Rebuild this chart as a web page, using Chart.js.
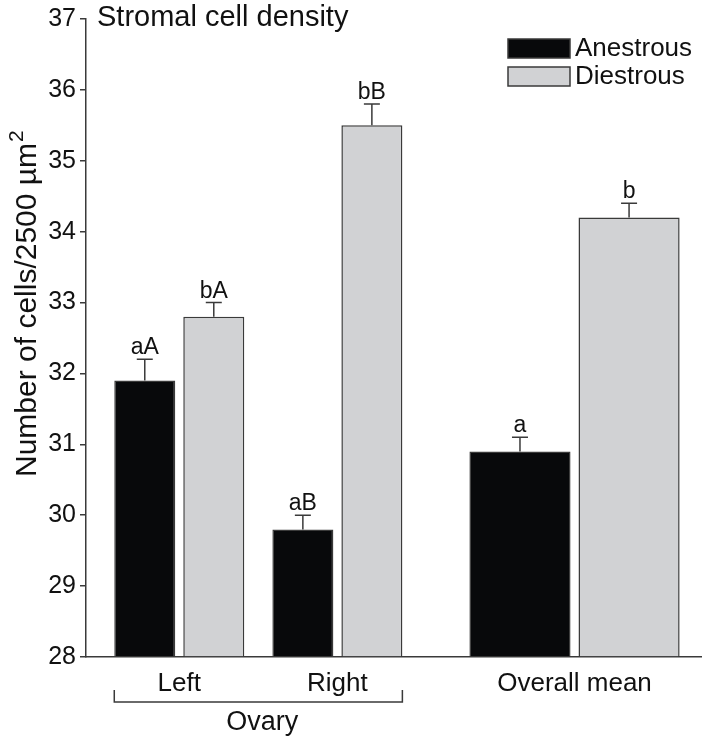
<!DOCTYPE html>
<html>
<head>
<meta charset="utf-8">
<script src="https://cdn.jsdelivr.net/npm/chart.js@4"></script>
<style>
  html, body { margin: 0; padding: 0; background: #fff; }
  #wrap { width: 706px; height: 741px; }
</style>
</head>
<body>
<div id="wrap"><canvas id="densityChart" width="706" height="741"></canvas></div>
<script>
const categories = ['Left', 'Right', 'Overall mean'];
const categoryPos = [1, 2, 3.5];
const anestrous = [31.9, 29.8, 30.9];
const diestrous = [32.8, 35.5, 34.2];
const anestrousSE = [0.3, 0.2, 0.2];
const diestrousSE = [0.2, 0.3, 0.2];
const anestrousLetters = ['aA', 'aB', 'a'];
const diestrousLetters = ['bA', 'bB', 'b'];
const seriesNames = ['Anestrous', 'Diestrous'];
const groupName = 'Ovary';
const ovaryIdx = [0, 1];
const overallIdx = [2];

const FONT = '"Liberation Sans", Arial, Helvetica, sans-serif';
const INK = '#111';
const EDGE = '#3a3a3a';
const BLACK = '#08090b';
const GREY = '#d1d2d4';

function makeSet(name, vals, se, letters, idx, color, stack, cp, bp) {
    return {
        label: name,
        data: idx.map(i => ({ x: categoryPos[i], y: vals[i] })),
        se: idx.map(i => se[i]),
        letters: idx.map(i => letters[i]),
        backgroundColor: color,
        borderColor: EDGE,
        borderWidth: 1.5,
        borderSkipped: 'start',
        stack: stack,
        base: 28,
        categoryPercentage: cp,
        barPercentage: bp
    };
}

const datasets = [
    makeSet(seriesNames[0], anestrous, anestrousSE, anestrousLetters, ovaryIdx, BLACK, 'A', 0.873, 0.884),
    makeSet(seriesNames[1], diestrous, diestrousSE, diestrousLetters, ovaryIdx, GREY, 'D', 0.873, 0.884),
    makeSet(seriesNames[0], anestrous, anestrousSE, anestrousLetters, overallIdx, BLACK, 'A', 1.38, 0.927),
    makeSet(seriesNames[1], diestrous, diestrousSE, diestrousLetters, overallIdx, GREY, 'D', 1.38, 0.927)
];

// error bars, letters, legend, titles and the ovary bracket
const extras = {
    id: 'extras',
    afterDatasetsDraw(chart) {
        const ctx = chart.ctx;
        const y = chart.scales.y;
        const area = chart.chartArea;
        ctx.save();

        chart.data.datasets.forEach((ds, di) => {
            chart.getDatasetMeta(di).data.forEach((bar, i) => {
                const top = y.getPixelForValue(ds.data[i].y + ds.se[i]);
                ctx.strokeStyle = EDGE;
                ctx.lineWidth = 1.5;
                ctx.beginPath();
                ctx.moveTo(bar.x, bar.y);
                ctx.lineTo(bar.x, top);
                ctx.moveTo(bar.x - 8, top);
                ctx.lineTo(bar.x + 8, top);
                ctx.stroke();
                ctx.fillStyle = INK;
                ctx.font = '23px ' + FONT;
                ctx.textAlign = 'center';
                ctx.textBaseline = 'alphabetic';
                ctx.fillText(ds.letters[i], bar.x, top - 5);
            });
        });

        // legend
        [0, 1].forEach((di, r) => {
            const ds = chart.data.datasets[di];
            const bx = 508, by = 39 + r * 28;
            ctx.fillStyle = ds.backgroundColor;
            ctx.fillRect(bx, by, 62, 19);
            ctx.strokeStyle = EDGE;
            ctx.lineWidth = 1.5;
            ctx.strokeRect(bx, by, 62, 19);
            ctx.fillStyle = INK;
            ctx.font = '26px ' + FONT;
            ctx.textAlign = 'left';
            ctx.textBaseline = 'middle';
            ctx.fillText(ds.label, bx + 67, by + 10);
        });

        // title
        ctx.fillStyle = INK;
        ctx.font = '29px ' + FONT;
        ctx.textAlign = 'left';
        ctx.textBaseline = 'alphabetic';
        ctx.fillText('Stromal cell density', area.left + 11, 26);

        // y axis title with superscript
        ctx.save();
        ctx.translate(36, 477);
        ctx.rotate(-Math.PI / 2);
        ctx.font = '30px ' + FONT;
        const main = 'Number of cells/2500 \u00b5m';
        ctx.fillText(main, 0, 0);
        const w = ctx.measureText(main).width;
        ctx.font = '21px ' + FONT;
        ctx.fillText('2', w + 1, -13);
        ctx.restore();

        // ovary bracket
        const b0 = chart.getDatasetMeta(0).data[0];
        const b1 = chart.getDatasetMeta(1).data[1];
        const x0 = b0.x - b0.width / 2;
        const x1 = b1.x + b1.width / 2;
        ctx.strokeStyle = EDGE;
        ctx.lineWidth = 1.5;
        ctx.beginPath();
        ctx.moveTo(x0, 690);
        ctx.lineTo(x0, 702);
        ctx.lineTo(x1, 702);
        ctx.lineTo(x1, 690);
        ctx.stroke();
        ctx.fillStyle = INK;
        ctx.font = '27px ' + FONT;
        ctx.textAlign = 'center';
        ctx.fillText(groupName, (x0 + x1) / 2 + 4, 730);

        ctx.restore();
    }
};

new Chart(document.getElementById('densityChart').getContext('2d'), {
    type: 'bar',
    data: { datasets: datasets },
    options: {
        responsive: false,
        animation: false,
        layout: { padding: { top: 15, right: 5, bottom: 0, left: 0 } },
        plugins: {
            legend: { display: false },
            tooltip: { enabled: false }
        },
        scales: {
            x: {
                type: 'linear',
                min: 0.41,
                max: 4.3,
                offset: false,
                afterBuildTicks: s => { s.ticks = categoryPos.map(v => ({ value: v })); },
                afterFit: s => { s.height = 84; },
                ticks: {
                    autoSkip: false,
                    maxRotation: 0,
                    padding: 3,
                    color: INK,
                    font: { family: FONT, size: 26 },
                    callback: (v, i) => categories[i]
                },
                grid: { display: false },
                border: { display: true, color: EDGE, width: 1.5 }
            },
            y: {
                min: 28,
                max: 37,
                afterFit: s => { s.width = 86; },
                ticks: {
                    stepSize: 1,
                    padding: 4,
                    color: INK,
                    font: { family: FONT, size: 25 }
                },
                grid: { display: true, drawOnChartArea: false, drawTicks: true, tickLength: 6, color: EDGE, lineWidth: 1.5 },
                border: { display: true, color: EDGE, width: 1.5 }
            }
        }
    },
    plugins: [extras]
});
</script>
</body>
</html>
